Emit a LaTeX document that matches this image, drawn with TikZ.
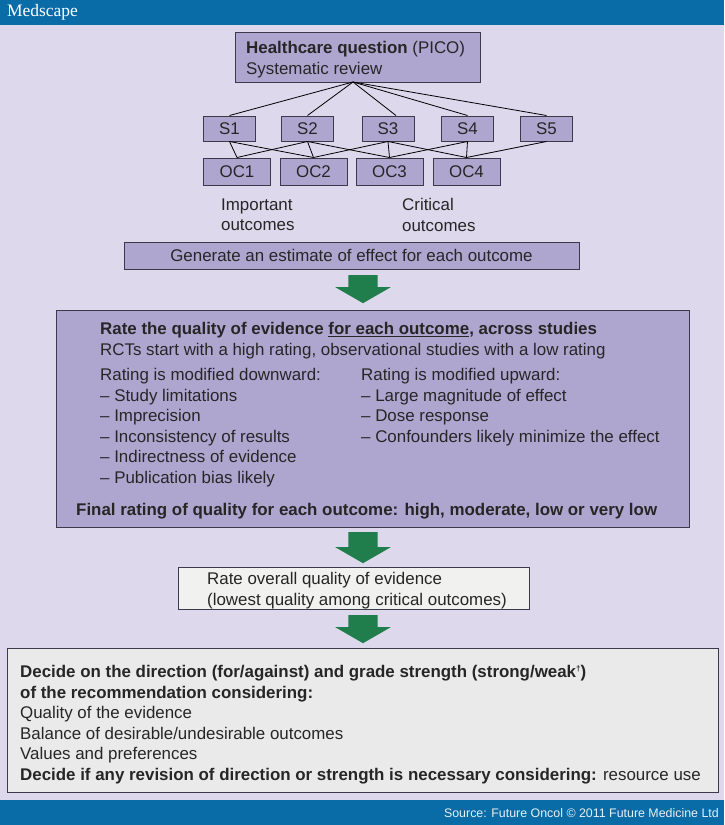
\documentclass[tikz,border=0pt]{standalone}
\usepackage{fontspec}
\setmainfont{Liberation Sans}
\newfontfamily\logofont{Liberation Serif}
\usepackage{xcolor}
\usepackage{tikz}
\usetikzlibrary{shapes.arrows}

\definecolor{pagelilac}{HTML}{DDD8EC}
\definecolor{boxlilac}{HTML}{AFA6D0}
\definecolor{bandblue}{HTML}{0A6CA6}
\definecolor{arrowgreen}{HTML}{1F7E4B}
\definecolor{boxgray}{HTML}{EAEAEA}
\definecolor{boxpale}{HTML}{F1F1EF}
\definecolor{edgedark}{HTML}{3A3A4A}

\begin{document}
\begin{tikzpicture}[
        x=1pt,
        y=-1pt,
        font=\fontsize{16.9}{20.5}\selectfont,
        textcolor/.style={text=black!85},
        lilacbox/.style={draw=edgedark, line width=1pt, fill=boxlilac, inner sep=0pt, textcolor},
        study/.style={lilacbox, minimum width=52pt, minimum height=25pt},
        outcome/.style={lilacbox, minimum width=67pt, minimum height=27pt},
        plain/.style={anchor=north west, inner sep=0pt, align=left, textcolor},
        bigarrow/.style={single arrow, rotate=-90, anchor=tail, fill=arrowgreen, inner xsep=0pt, inner ysep=14.5pt,
            minimum height=28pt, single arrow head extend=13pt,
            single arrow tip angle=120, single arrow head indent=0pt},
        link/.style={draw=black, line width=0.8pt}
    ]
    \useasboundingbox (0,0) rectangle (724,825);
    \fill[pagelilac] (0,0) rectangle (724,825);

    % bands
    \node[fill=bandblue, minimum width=724pt, minimum height=25pt, inner sep=0pt] (TopBand) at (362,12.5) {};
    \node[fill=bandblue, minimum width=724pt, minimum height=25pt, inner sep=0pt] (BottomBand) at (362,812.5) {};
    \node[text=white, inner sep=0pt, font=\logofont\fontsize{17.5}{17.5}\selectfont] (Logo) at (42.5,12) {Medscape};
    \node[text=white!90!bandblue, anchor=east, inner sep=0pt, font=\fontsize{12.4}{12.4}\selectfont] (Source) at (719,813) {Source: Future Oncol © 2011 Future Medicine Ltd};

    % question
    \node[lilacbox, minimum width=245pt, minimum height=50pt] (Q) at (357.5,57) {};
    \node[plain] (QText) at (246,41.5)
        {\textbf{Healthcare question} (PICO)\\Systematic review};
    \coordinate (Qout) at (353,82);

    % studies
    \node[study] (S1) at (229.5,128.5) {S1};
    \node[study] (S2) at (307.5,128.5) {S2};
    \node[study] (S3) at (388,128.5) {S3};
    \node[study] (S4) at (467.5,128.5) {S4};
    \node[study] (S5) at (546.5,128.5) {S5};

    % outcomes
    \node[outcome] (OC1) at (237,171.5) {OC1};
    \node[outcome] (OC2) at (313.5,171.5) {OC2};
    \node[outcome] (OC3) at (389.5,171.5) {OC3};
    \node[outcome] (OC4) at (466.5,171.5) {OC4};

    \node[plain] (Important) at (221,198.5) {Important\\outcomes};
    \node[plain] (Critical) at (402,198.5) {Critical\\outcomes};

    \foreach \s in {S1,S2,S4,S5}
        \draw[link] (Qout) -- (\s.north);
    \draw[link] (Qout) -- ([xshift=8pt]S3.north);

    \foreach \s/\o in {S1/OC1,S1/OC2,S2/OC1,S2/OC2,S2/OC3,S3/OC2,S3/OC3,S3/OC4,S4/OC3,S4/OC4,S5/OC4}
        \draw[link] (\s.south) -- (\o.north);

    % estimate
    \node[lilacbox, minimum width=455pt, minimum height=27pt] (Estimate) at (351.5,255.5)
        {Generate an estimate of effect for each outcome};

    \node[bigarrow] (A1) at (363,275) {};

    % rating
    \node[lilacbox, minimum width=633pt, minimum height=217pt] (Rating) at (372.5,418.5) {};
    \node[plain] (RatingHead) at (100,322.5)
        {\textbf{Rate the quality of evidence \underline{for each outcome}, across studies}\\RCTs start with a high rating, observational studies with a low rating};
    \node[plain] (Down) at (100,368.5)
        {Rating is modified downward:\\– Study limitations\\– Imprecision\\– Inconsistency of results\\– Indirectness of evidence\\– Publication bias likely};
    \node[plain] (Up) at (361,368.5)
        {Rating is modified upward:\\– Large magnitude of effect\\– Dose response\\– Confounders likely minimize the effect};
    \node[plain] (FinalRate) at (76,503.5)
        {\textbf{Final rating of quality for each outcome: high, moderate, low or very low}};

    \node[bigarrow, minimum height=31pt] (A2) at (363,532) {};

    % overall
    \node[draw=edgedark, line width=1pt, fill=boxpale, minimum width=351pt, minimum height=42pt,
        inner sep=0pt] (Overall) at (353.5,588) {};
    \node[plain] (OverallText) at (207,572.5)
        {Rate overall quality of evidence\\(lowest quality among critical outcomes)};

    \node[bigarrow] (A3) at (363,615) {};

    % decision
    \node[draw=edgedark, line width=1pt, fill=boxgray, minimum width=711pt, minimum height=144pt,
        inner sep=0pt] (Decide) at (362.5,720) {};
    \node[plain] (DecideText) at (20,665.5)
        {\textbf{Decide on the direction (for/against) and grade strength (strong/weak\raisebox{6pt}{\fontsize{8}{8}\selectfont †})}\\
        \textbf{of the recommendation considering:}\\
        Quality of the evidence\\
        Balance of desirable/undesirable outcomes\\
        Values and preferences\\
        \textbf{Decide if any revision of direction or strength is necessary considering:} resource use};

\end{tikzpicture}
\end{document}
